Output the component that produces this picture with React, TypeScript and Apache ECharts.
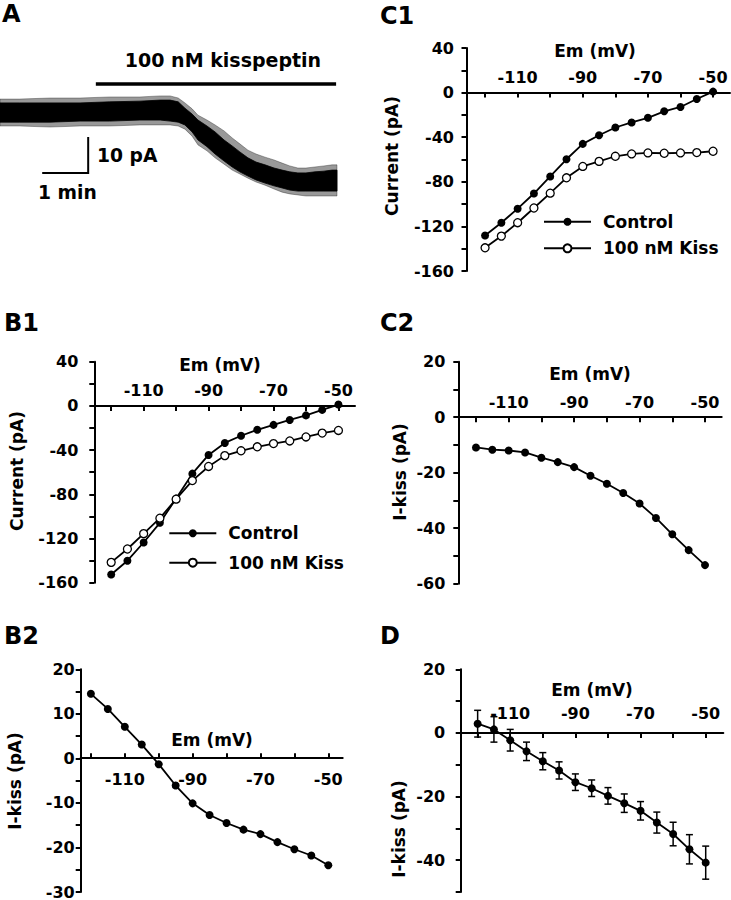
import React, { useEffect, useRef } from 'react';
import * as echarts from 'echarts';

// ---------- data ----------
const emValues = [-120, -115, -110, -105, -100, -95, -90, -85, -80, -75, -70, -65, -60, -55, -50];
const c1Control = [-128.1, -116.7, -104.1, -90.5, -75.2, -59.8, -46.0, -38.2, -31.3, -26.8, -22.6, -16.8, -12.9, -5.7, 0.9];
const c1Kiss = [-139.2, -128.7, -116.7, -103.5, -90.2, -76.4, -66.2, -61.7, -57.1, -55.0, -54.1, -54.4, -54.1, -53.8, -52.6];
const b1Control = [-152.6, -140.1, -123.6, -105.8, -83.9, -61.3, -44.4, -33.5, -27.0, -21.6, -17.2, -12.7, -8.6, -3.6, 1.2];
const b1Kiss = [-141.6, -129.5, -115.6, -101.6, -84.4, -67.6, -54.8, -45.0, -40.6, -37.0, -34.1, -31.7, -28.1, -24.6, -22.2];
const c2IKiss = [-10.9, -11.7, -12.0, -12.7, -14.6, -16.2, -18.0, -21.1, -24.0, -27.3, -31.1, -36.3, -42.2, -47.9, -53.3];
const b2IKiss = [14.5, 11.1, 7.1, 3.1, -1.3, -6.1, -10.1, -12.7, -14.5, -16.0, -17.0, -18.8, -20.4, -21.8, -24.0];
const dMean = [2.9, 1.1, -2.3, -5.8, -8.9, -11.8, -15.5, -17.4, -19.8, -22.1, -24.5, -28.2, -31.8, -36.6, -40.8];
const dSem = [4.2, 4.0, 3.4, 2.9, 2.7, 2.7, 2.6, 2.6, 2.6, 2.9, 2.9, 3.3, 3.7, 4.6, 5.2];

const xTickValues = [-120, -110, -100, -90, -80, -70, -60, -50];
const xLabelValues = [-110, -90, -70, -50];

// panel A trace (time in min, current in pA relative to baseline)
const traceTime = [0, 0.44, 1.11, 1.78, 2.44, 3.11, 3.56, 3.78, 3.96, 4.11, 4.27, 4.40, 4.60, 4.78, 4.98, 5.16, 5.33, 5.51, 5.69, 5.89, 6.09, 6.27, 6.44, 6.62, 6.80, 7.00, 7.20, 7.38, 7.49];
// dense core of the noisy trace
const traceUpper = [2.6, 2.6, 2.6, 2.6, 2.9, 3.1, 3.4, 3.4, 2.9, 1.1, -0.6, -2.3, -4.0, -5.7, -8.0, -9.7, -11.4, -13.1, -14.3, -15.1, -16.0, -16.6, -17.1, -17.4, -17.4, -17.1, -16.9, -16.6, -16.6];
const traceLower = [-2.9, -2.9, -2.9, -2.6, -2.6, -2.3, -2.3, -2.6, -2.9, -3.7, -5.7, -8.0, -9.9, -12.0, -14.0, -15.7, -17.1, -18.3, -19.4, -20.3, -21.1, -21.7, -22.3, -22.6, -22.6, -22.6, -22.6, -22.6, -22.6];
// extent of the noise spikes
const spikeUpper = [3.7, 3.7, 4.0, 4.0, 4.3, 4.3, 4.6, 4.6, 4.0, 2.6, 0.9, -0.9, -2.3, -3.7, -5.4, -7.4, -9.1, -10.9, -12.0, -12.9, -13.7, -14.6, -15.4, -16.0, -16.0, -15.7, -15.4, -15.1, -15.1];
const spikeLower = [-4.0, -4.0, -4.3, -4.0, -4.0, -3.7, -3.7, -3.7, -4.0, -4.9, -6.9, -9.4, -11.1, -13.1, -14.9, -16.6, -17.7, -18.9, -20.0, -20.9, -22.0, -22.9, -23.4, -23.7, -24.0, -24.0, -24.0, -24.0, -24.0];
const drugBar = [[2.13, 8], [7.47, 8]];
const scaleBar = [[0.96, -17.4], [1.96, -17.4], [1.96, -7.4]];

const FF = '"DejaVu Sans", "Liberation Sans", Arial, sans-serif';
const BLACK = '#000';

function pairs(ys: number[]) {
  return emValues.map((x, i) => [x, ys[i]]);
}

// x axis drawn at the y = 0 level of its grid
function xAx(grid: number, min: number, max: number, gridH: number, yMin: number, yMax: number,
  labelsInside: boolean, ticksInside: boolean, margin: number) {
  return {
    type: 'value', gridIndex: grid, min, max, position: 'bottom',
    offset: -(gridH * (0 - yMin)) / (yMax - yMin),
    axisLine: { show: true, onZero: false, lineStyle: { color: BLACK, width: 2 } },
    axisTick: { show: true, inside: ticksInside, length: 5, customValues: xTickValues, lineStyle: { color: BLACK, width: 2 } },
    axisLabel: { show: true, inside: labelsInside, margin, customValues: xLabelValues, color: BLACK, fontSize: 16, fontWeight: 'bold', fontFamily: FF },
    splitLine: { show: false },
  };
}

function yAx(grid: number, min: number, max: number, interval: number, labelStep: number, margin: number) {
  return {
    type: 'value', gridIndex: grid, min, max, interval,
    axisLine: { show: true, onZero: false, lineStyle: { color: BLACK, width: 2 } },
    axisTick: { show: true, length: 5, lineStyle: { color: BLACK, width: 2 } },
    axisLabel: {
      show: true, margin, color: BLACK, fontSize: 16, fontWeight: 'bold', fontFamily: FF,
      formatter: (v: number) => (Math.round(v) % labelStep === 0 ? String(Math.round(v)) : ''),
    },
    splitLine: { show: false },
  };
}

function filledSeries(name: string, grid: number, ys: number[]) {
  return {
    type: 'line', name, xAxisIndex: grid, yAxisIndex: grid, data: pairs(ys),
    symbol: 'circle', symbolSize: 8, showSymbol: true,
    lineStyle: { color: BLACK, width: 1.8 },
    itemStyle: { color: BLACK, borderColor: BLACK, borderWidth: 0 },
    z: 3,
  };
}

function openSeries(name: string, grid: number, ys: number[]) {
  return {
    type: 'line', name, xAxisIndex: grid, yAxisIndex: grid, data: pairs(ys),
    symbol: 'circle', symbolSize: 8, showSymbol: true,
    lineStyle: { color: BLACK, width: 1.8 },
    itemStyle: { color: '#fff', borderColor: BLACK, borderWidth: 1.3 },
    z: 4,
  };
}

function bandSeries(name: string, upper: number[], lower: number[], opacity: number, z: number) {
  return {
    type: 'custom', name, xAxisIndex: 0, yAxisIndex: 0, z,
    data: [[traceTime[0], upper[0]]],
    clip: false,
    renderItem: (_params: any, api: any) => {
      const pts: number[][] = [];
      for (let i = 0; i < traceTime.length; i++) pts.push(api.coord([traceTime[i], upper[i]]));
      for (let i = traceTime.length - 1; i >= 0; i--) pts.push(api.coord([traceTime[i], lower[i]]));
      return { type: 'polygon', shape: { points: pts }, style: { fill: BLACK, stroke: BLACK, lineWidth: 0.8, opacity } };
    },
  };
}

function txt(x: number, y: number, text: string, size: number, align = 'center', rotation = 0) {
  return {
    type: 'text', x, y, rotation,
    style: { text, fill: BLACK, font: `bold ${size}px ${FF}`, align, verticalAlign: 'middle' },
  };
}

const legendText = { color: BLACK, fontSize: 17, fontWeight: 'bold', fontFamily: FF, padding: [0, 0, 0, 7], lineHeight: 20 };

export default function App() {
  const ref = useRef<HTMLDivElement>(null);
  useEffect(() => {
    if (!ref.current) return;
    const chart = echarts.init(ref.current, undefined, { renderer: 'svg' });

    const gC1 = { left: 466.5, top: 48, width: 263.5, height: 223 };
    const gB1 = { left: 94.3, top: 361.7, width: 260.7, height: 221 };
    const gC2 = { left: 458.3, top: 361.7, width: 263.4, height: 222 };
    const gB2 = { left: 80.7, top: 669.3, width: 262, height: 223 };
    const gD = { left: 460.7, top: 669.3, width: 262.6, height: 222.6 };

    const option: any = {
      animation: false,
      backgroundColor: '#fff',
      grid: [
        { left: 0, top: 42, width: 337, height: 157.5 }, // A
        gC1, gB1, gC2, gB2, gD,
      ],
      xAxis: [
        { type: 'value', gridIndex: 0, min: 0, max: 7.49, show: false },
        xAx(1, -125.7, -44.8, gC1.height, -160, 40, true, false, 7),
        xAx(2, -125.2, -44.9, gB1.height, -160, 40, true, false, 7),
        xAx(3, -125.4, -44.9, gC2.height, -60, 20, true, false, 7),
        xAx(4, -123, -45.75, gB2.height, -30, 20, false, true, 13),
        xAx(5, -125.2, -44.6, gD.height, -50, 20, true, false, 11),
      ],
      yAxis: [
        { type: 'value', gridIndex: 0, min: -25, max: 20, show: false },
        yAx(1, -160, 40, 20, 40, 12.5),
        yAx(2, -160, 40, 20, 40, 16),
        yAx(3, -60, 20, 10, 20, 13),
        yAx(4, -30, 20, 5, 10, 6),
        yAx(5, -50, 20, 10, 20, 15.5),
      ],
      legend: [
        {
          left: 543, top: 211.7, orient: 'vertical', itemWidth: 47, itemHeight: 10, itemGap: 6.6, padding: 0,
          selectedMode: false, data: ['Control', '100 nM Kiss'], textStyle: legendText,
        },
        {
          left: 168.3, top: 523.3, orient: 'vertical', itemWidth: 47, itemHeight: 10, itemGap: 9.4, padding: 0,
          selectedMode: false, data: ['Control', '100 nM Kiss'], textStyle: legendText,
        },
      ],
      series: [
        // Panel A trace: spike halo + dense core
        bandSeries('trace noise', spikeUpper, spikeLower, 0.4, 1),
        bandSeries('trace', traceUpper, traceLower, 1, 2),
        {
          type: 'line', name: 'drug', xAxisIndex: 0, yAxisIndex: 0, data: drugBar, symbol: 'none',
          lineStyle: { color: BLACK, width: 3.5, cap: 'butt' },
        },
        {
          type: 'line', name: 'scale', xAxisIndex: 0, yAxisIndex: 0, data: scaleBar, symbol: 'none',
          lineStyle: { color: BLACK, width: 2, join: 'miter', cap: 'square' },
        },
        // C1
        filledSeries('Control', 1, c1Control),
        openSeries('100 nM Kiss', 1, c1Kiss),
        // B1
        filledSeries('Control', 2, b1Control),
        openSeries('100 nM Kiss', 2, b1Kiss),
        // C2
        filledSeries('I-kiss C2', 3, c2IKiss),
        // B2
        filledSeries('I-kiss B2', 4, b2IKiss),
        // D
        {
          type: 'custom', name: 'SEM', xAxisIndex: 5, yAxisIndex: 5,
          data: emValues.map((x, i) => [x, dMean[i] - dSem[i], dMean[i] + dSem[i]]),
          encode: { x: 0, y: [1, 2] },
          z: 2,
          renderItem: (_params: any, api: any) => {
            const x = api.value(0);
            const lo = api.coord([x, api.value(1)]);
            const hi = api.coord([x, api.value(2)]);
            const w = 3.5;
            const st = { stroke: BLACK, lineWidth: 1.5 };
            return {
              type: 'group',
              children: [
                { type: 'line', shape: { x1: lo[0], y1: lo[1], x2: hi[0], y2: hi[1] }, style: st },
                { type: 'line', shape: { x1: lo[0] - w, y1: lo[1], x2: lo[0] + w, y2: lo[1] }, style: st },
                { type: 'line', shape: { x1: hi[0] - w, y1: hi[1], x2: hi[0] + w, y2: hi[1] }, style: st },
              ],
            };
          },
        },
        filledSeries('I-kiss D', 5, dMean),
      ],
      graphic: [
        // panel letters
        txt(2, 14, 'A', 24, 'left'),
        txt(380, 15.5, 'C1', 24, 'left'),
        txt(4, 323, 'B1', 24, 'left'),
        txt(380, 323, 'C2', 24, 'left'),
        txt(4, 635.5, 'B2', 24, 'left'),
        txt(380, 635.5, 'D', 24, 'left'),
        // panel A annotations
        txt(223, 60, '100 nM kisspeptin', 19),
        txt(97, 155, '10 pA', 18.7, 'left'),
        txt(38, 192.5, '1 min', 18.7, 'left'),
        // x-axis names
        txt(595, 51, 'Em (mV)', 17),
        txt(220, 365, 'Em (mV)', 17),
        txt(590, 374, 'Em (mV)', 17),
        txt(212, 740, 'Em (mV)', 17),
        txt(592, 690, 'Em (mV)', 17),
        // y-axis names
        txt(392, 156, 'Current (pA)', 17, 'center', Math.PI / 2),
        txt(17, 471, 'Current (pA)', 17, 'center', Math.PI / 2),
        txt(400, 472, 'I-kiss (pA)', 17, 'center', Math.PI / 2),
        txt(15, 781, 'I-kiss (pA)', 17, 'center', Math.PI / 2),
        txt(399, 829, 'I-kiss (pA)', 17, 'center', Math.PI / 2),
      ],
    };

    chart.setOption(option);
    return () => chart.dispose();
  }, []);

  return (
    <div
      ref={ref}
      style={{ position: 'absolute', left: 0, top: 0, width: 731, height: 900, background: '#fff' }}
    />
  );
}
